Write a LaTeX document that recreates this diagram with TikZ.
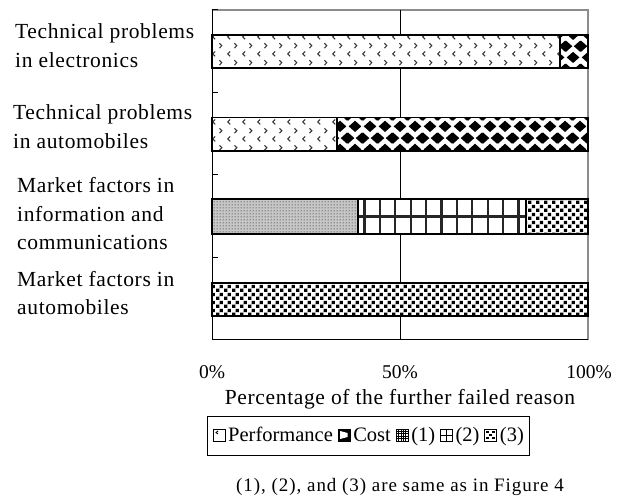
\documentclass[tikz,border=0pt]{standalone}
\usepackage{fontspec}
\setmainfont{Liberation Serif}
\usetikzlibrary{patterns,positioning,fit,calc}

% small chevrons "<" and ">" in staggered rows
\pgfdeclarepatternformonly{perfmarks}{\pgfpoint{0pt}{0pt}}{\pgfpoint{15pt}{17pt}}{\pgfpoint{15pt}{17pt}}{%
  \pgfsetlinewidth{1.1pt}%
  \pgfpathmoveto{\pgfpoint{5.5pt}{6.75pt}}\pgfpathlineto{\pgfpoint{3pt}{4.25pt}}\pgfpathlineto{\pgfpoint{5.5pt}{1.75pt}}%
  \pgfpathmoveto{\pgfpoint{10pt}{15.25pt}}\pgfpathlineto{\pgfpoint{12.5pt}{12.75pt}}\pgfpathlineto{\pgfpoint{10pt}{10.25pt}}%
  \pgfusepath{stroke}}

% black diamonds on a staggered lattice
\pgfdeclarepatternformonly{costdiamonds}{\pgfpoint{0pt}{0pt}}{\pgfpoint{14.5pt}{23pt}}{\pgfpoint{14.5pt}{23pt}}{%
  \pgfpathmoveto{\pgfpoint{0.75pt}{5.75pt}}\pgfpathlineto{\pgfpoint{7.25pt}{11.5pt}}%
  \pgfpathlineto{\pgfpoint{13.75pt}{5.75pt}}\pgfpathlineto{\pgfpoint{7.25pt}{0pt}}\pgfpathclose
  \pgfpathmoveto{\pgfpoint{-6.5pt}{17.25pt}}\pgfpathlineto{\pgfpoint{0pt}{23pt}}%
  \pgfpathlineto{\pgfpoint{6.5pt}{17.25pt}}\pgfpathlineto{\pgfpoint{0pt}{11.5pt}}\pgfpathclose
  \pgfpathmoveto{\pgfpoint{8pt}{17.25pt}}\pgfpathlineto{\pgfpoint{14.5pt}{23pt}}%
  \pgfpathlineto{\pgfpoint{21pt}{17.25pt}}\pgfpathlineto{\pgfpoint{14.5pt}{11.5pt}}\pgfpathclose
  \pgfusepath{fill}}

% fine stipple
\pgfdeclarepatternformonly{finedots}{\pgfpoint{0pt}{0pt}}{\pgfpoint{3pt}{3pt}}{\pgfpoint{3pt}{3pt}}{%
  \pgfpathcircle{\pgfpoint{1.5pt}{1.5pt}}{0.8pt}\pgfusepath{fill}}

% staggered black squares
\pgfdeclarepatternformonly{sqdots}{\pgfpoint{0pt}{0pt}}{\pgfpoint{8pt}{8pt}}{\pgfpoint{8pt}{8pt}}{%
  \pgfpathrectangle{\pgfpoint{0.2pt}{0.2pt}}{\pgfpoint{3.6pt}{3.6pt}}%
  \pgfpathrectangle{\pgfpoint{4.2pt}{4.2pt}}{\pgfpoint{3.6pt}{3.6pt}}%
  \pgfusepath{fill}}

\begin{document}
\begin{tikzpicture}[x=1pt,y=-1pt,
  lbl/.style={inner sep=0pt, anchor=base west,
    font=\fontsize{21.5}{26}\selectfont\addfontfeatures{LetterSpace=3}},
  ticklbl/.style={inner sep=0pt, anchor=base, font=\fontsize{19.5}{24}\selectfont},
  xtitle/.style={inner sep=0pt, anchor=base,
    font=\fontsize{21.5}{26}\selectfont\addfontfeatures{LetterSpace=3}},
  captext/.style={inner sep=0pt, anchor=base,
    font=\fontsize{19}{23}\selectfont\addfontfeatures{LetterSpace=5}},
  legtext/.style={inner sep=0pt, text height=15pt, text depth=3pt,
    font=\fontsize{20.5}{24}\selectfont},
  legicon/.style={draw=black, line width=1pt, minimum size=12pt, inner sep=0pt, outer sep=0pt},
  barline/.style={draw=black, line width=1.4pt},
  frameline/.style={draw=black!45, line width=1.3pt},
  axisline/.style={draw=black, line width=1pt},
  gridln/.style={draw=black!85, line width=2.2pt}
]
\useasboundingbox (0,0) rectangle (625,500);

% plot frame, 50% grid line and category ticks
\draw[frameline] (212,10) -- (588,10) -- (588,340);
\draw[axisline] (212,340) -- (588,340);
\draw[axisline] (400,10) -- (400,340);
\draw[axisline] (212,10) -- (212,340);
\foreach \ty in {10,92.5,175,257.5,340}
  \draw[axisline] (212,\ty) -- (218,\ty);

% bar 1: technical problems in electronics
\draw[barline, preaction={fill=white}, pattern=perfmarks, pattern color=black!80] (212,35) rectangle (560,68);
\draw[barline, preaction={fill=white}, pattern=costdiamonds] (560,35) rectangle (588,68);

% bar 2: technical problems in automobiles
\draw[barline, preaction={fill=white}, pattern=perfmarks, pattern color=black!80] (212,117.5) rectangle (337,151);
\draw[barline, preaction={fill=white}, pattern=costdiamonds] (337,117.5) rectangle (588,151);

% bar 3: market factors in information and communications
\draw[barline, preaction={fill=black!22}, pattern=finedots, pattern color=black!70] (212,199) rectangle (358,234);
\fill[white] (358,199) rectangle (526,234);
\foreach \k in {0,...,10}
  \draw[gridln] ({364.4+15.4*\k},199) -- ({364.4+15.4*\k},234);
\draw[gridln] (358,216.5) -- (526,216.5);
\draw[barline] (358,199) rectangle (526,234);
\draw[barline, preaction={fill=white}, pattern=sqdots] (526,199) rectangle (588,234);

% bar 4: market factors in automobiles
\draw[barline, preaction={fill=white}, pattern=sqdots] (212,283) rectangle (588,316);

% category labels
\node[lbl] (c1a) at (15,39)  {Technical problems};
\node[lbl] (c1b) at (15,68)  {in electronics};
\node[lbl] (c2a) at (13,120) {Technical problems};
\node[lbl] (c2b) at (13,149) {in automobiles};
\node[lbl] (c3a) at (17,193) {Market factors in};
\node[lbl] (c3b) at (17,222) {information and};
\node[lbl] (c3c) at (17,250) {communications};
\node[lbl] (c4a) at (17,287) {Market factors in};
\node[lbl] (c4b) at (17,315) {automobiles};

% value axis labels
\node[ticklbl] (x0)   at (212,379) {0\%};
\node[ticklbl] (x50)  at (400,379) {50\%};
\node[ticklbl] (x100) at (589,379) {100\%};
\node[xtitle] (xt) at (400,404) {Percentage of the further failed reason};

% legend
\node[legicon, fill=white] (i1) at (219,435) {};
\draw[black, line width=0.9pt] ([shift={(-1,-4)}]i1.center) -- ([shift={(-3,-2.5)}]i1.center) -- ([shift={(-1,-1)}]i1.center);
\node[legtext, right=3pt of i1] (t1) {Performance};
\node[legicon, fill=black, right=5pt of t1] (i2) {};
\fill[white] ([shift={(-4,-4)}]i2.center) -- ([shift={(3.5,-2)}]i2.center) -- ([shift={(3.5,2)}]i2.center) -- ([shift={(-4,4)}]i2.center) -- cycle;
\node[legtext, right=3pt of i2] (t2) {Cost};
\node[legicon, fill=white, right=5pt of t2] (i3) {};
\foreach \d in {-3.6,-1.2,1.2,3.6} {
  \draw[black, line width=0.7pt] ([shift={(\d,-6)}]i3.center) -- ([shift={(\d,6)}]i3.center);
  \draw[black, line width=0.7pt] ([shift={(-6,\d)}]i3.center) -- ([shift={(6,\d)}]i3.center);
}
\node[legtext, right=3pt of i3] (t3) {(1)};
\node[legicon, fill=white, right=5pt of t3] (i4) {};
\draw[black, line width=1pt] (i4.north) -- (i4.south) (i4.west) -- (i4.east);
\node[legtext, right=3pt of i4] (t4) {(2)};
\node[legicon, fill=white, right=5pt of t4] (i5) {};
\foreach \p in {(-3,-3),(3,-3),(0,0),(-3,3),(3,3)}
  \fill[black] ([shift={\p}]i5.center) +(-1.4,-1.4) rectangle +(1.4,1.4);
\node[legtext, right=3pt of i5] (t5) {(3)};
\coordinate (lgtl) at (207,416);
\coordinate (lgbase) at (0,455);
\coordinate (lgbr) at ($(t5.east |- lgbase)+(5,0)$);
\node[draw=black, line width=1pt, inner sep=0pt, fit=(lgtl)(lgbr)] (legend) {};

% note below the legend
\node[captext] (cap) at (400,491) {(1), (2), and (3) are same as in Figure 4};
\end{tikzpicture}
\end{document}
